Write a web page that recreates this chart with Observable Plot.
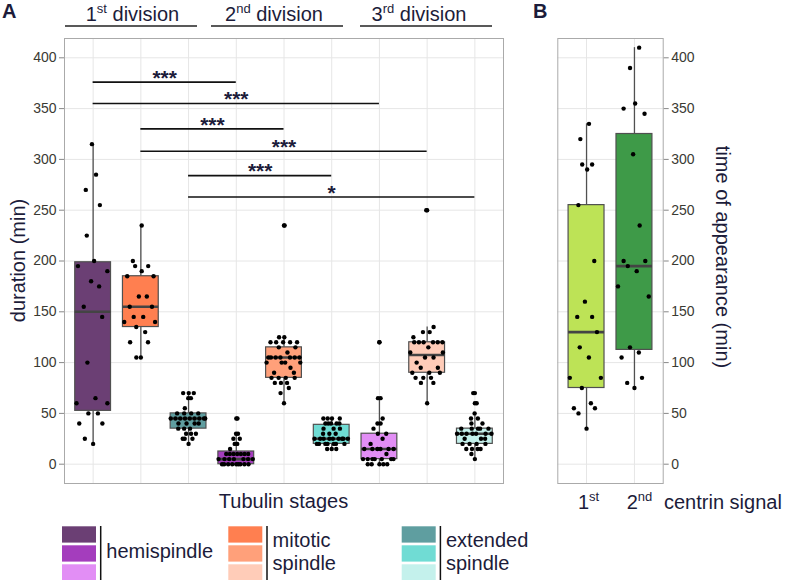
<!DOCTYPE html>
<html><head><meta charset="utf-8">
<script src="https://cdn.jsdelivr.net/npm/d3@7"></script>
<script src="https://cdn.jsdelivr.net/npm/@observablehq/plot@0.6"></script>
<style>
body{margin:0;background:#fff;}
#wrap{position:relative;width:785px;height:580px;overflow:hidden;background:#fff;}
</style></head><body><div id="wrap"></div>
<script>
// ---------------- data ----------------
const stages = ["hemispindle 1","mitotic spindle 1","extended spindle 1",
                "hemispindle 2","mitotic spindle 2","extended spindle 2",
                "hemispindle 3","mitotic spindle 3","extended spindle 3"];
const stageColors = ["#6B3F74","#FF7F50","#5F9EA0","#A43DBD","#FFA07A","#70DCD4","#E28EF5","#FFCCB8","#C4F1EC"];

const hemi1 = [315,285,270,255,225,200,195,190,180,175,155,145,100,65,60,60,50,50,40,40,25,20];
const mitotic1 = [235,200,195,195,190,185,185,165,165,155,155,145,145,140,140,135,130,120,120,105,105];
const extended1 = [70,70,70,65,65,55,50,50,50,50,45,45,45,45,45,45,45,45,45,40,40,40,40,35,35,35,30,30,30,25,25,25,20];
const hemi2 = [45,30,30,25,25,20,20,15,10,10,10,10,10,10,10,5,5,5,5,5,5,5,0,0,0,0,0,0,0,0,0];
const mitotic2 = [235,125,125,120,120,120,120,120,115,115,110,105,105,105,105,105,105,105,100,100,100,100,95,90,90,85,85,85,85,80,80,80,75,70,60];
const extended2 = [45,45,45,45,40,40,40,40,40,35,35,35,30,30,30,25,25,25,25,25,25,25,25,25,20,20,20,20,20,20,20,15,15,15];
const hemi3 = [120,65,65,45,40,40,35,30,30,25,20,15,15,15,15,15,15,10,5,5,5,5,5,5,5,0,0,0,0,0];
const mitotic3 = [250,135,130,130,125,120,120,120,120,120,120,115,110,110,105,105,100,95,95,90,90,90,85,85,85,80,80,60];
const extended3 = [70,60,50,45,45,40,40,35,35,35,35,35,30,30,30,30,30,30,30,25,25,25,20,20,20,20,15,15,15,15,10,5];
const durations = [hemi1,mitotic1,extended1,hemi2,mitotic2,extended2,hemi3,mitotic3,extended3];

const centrinSignals = ["1st","2nd"];
const centrinColors = ["#BDE356","#3E9A48"];
const centrin1 = [335,320,295,295,290,255,200,160,145,145,130,115,105,85,85,75,60,55,55,50,35];
const centrin2 = [410,390,355,350,345,305,235,200,200,195,190,175,165,115,110,105,85,80,75];
const centrinTimes = [centrin1, centrin2];

// significance brackets: from stage, to stage, height, label
const bracketFrom = ["hemispindle 1","hemispindle 1","mitotic spindle 1","mitotic spindle 1","extended spindle 1","extended spindle 1"];
const bracketTo   = ["hemispindle 2","hemispindle 3","mitotic spindle 2","mitotic spindle 3","extended spindle 2","extended spindle 3"];
const bracketY    = [376,355,330,308,284,263];
const bracketLab  = ["***","***","***","***","***","*"];

const yTicks = [0,50,100,150,200,250,300,350,400];
const divisionNum = ["1","2","3"];
const divisionSup = ["st","nd","rd"];

// ---------------- helpers ----------------
const FONT = '"Liberation Sans", Arial, Helvetica, sans-serif';
const NAVY = "#1c1c3a";
const TICKTXT = "#3a3a33";
const GRID = "#e6e6e6";
const BOXLINE = "#505050";

function boxStats(vals){
  const s = vals.slice().sort(d3.ascending);
  const q1 = d3.quantileSorted(s,0.25), q2 = d3.quantileSorted(s,0.5), q3 = d3.quantileSorted(s,0.75);
  const iqr = q3-q1, lf = q1-1.5*iqr, uf = q3+1.5*iqr;
  const inside = s.filter(v=>v>=lf && v<=uf);
  return {q1,q2,q3,lo:d3.min(inside),hi:d3.max(inside),out:s.filter(v=>v<lf||v>uf)};
}
function vdc(i){let v=0,d=1;while(i>0){d*=2;v+=(i%2)/d;i=Math.floor(i/2);}return v;}
function quasiOffsets(vals,width=0.4){
  const n=vals.length;
  const order=d3.range(n).sort((a,b)=>vals[a]-vals[b]||a-b);
  const rank=new Array(n); order.forEach((k,r)=>rank[k]=r+1);
  const s=vals.slice().sort(d3.ascending);
  const sd=d3.deviation(vals);
  const iqr=d3.quantileSorted(s,.75)-d3.quantileSorted(s,.25);
  let lo=Math.min(sd,iqr/1.34); if(!(lo>0)) lo=sd||1;
  const bw=0.9*lo*Math.pow(n,-0.2);
  const kde=y=>d3.sum(vals,v=>Math.exp(-0.5*((y-v)/bw)**2));
  const grid=d3.range(512).map(i=>s[0]-3*bw+i*(s[n-1]-s[0]+6*bw)/511);
  const maxD=d3.max(grid,kde);
  return vals.map((v,k)=>(vdc(rank[k])*2-1)*kde(v)/maxD*width);
}
function buildRows(names, series){
  return names.flatMap((s,i)=>{const off=quasiOffsets(series[i]);return series[i].map((v,k)=>({stage:s,value:v,x:i+1+off[k]}));});
}
function buildStats(names, series, colors){
  return names.map((s,i)=>({stage:s,i:i+1,color:colors[i],...boxStats(series[i])}));
}
function boxMarks(stats, rows){
  const hw=0.375;
  const outs=stats.flatMap(d=>d.out.map(v=>({i:d.i,value:v})));
  return [
    Plot.ruleX(stats,{x:"i",y1:"lo",y2:"q1",stroke:BOXLINE,strokeWidth:1.3}),
    Plot.ruleX(stats,{x:"i",y1:"q3",y2:"hi",stroke:BOXLINE,strokeWidth:1.3}),
    Plot.rect(stats,{x1:d=>d.i-hw,x2:d=>d.i+hw,y1:"q1",y2:"q3",fill:"color",stroke:BOXLINE,strokeWidth:1.2}),
    Plot.ruleY(stats,{x1:d=>d.i-hw,x2:d=>d.i+hw,y:"q2",stroke:"#444",strokeWidth:2.6}),
    Plot.dot(outs,{x:"i",y:"value",r:2.2,fill:"black",stroke:null}),
    Plot.dot(rows,{x:"x",y:"value",r:2.2,fill:"black",stroke:null})
  ];
}

const wrap=document.getElementById("wrap");
const Y_DOMAIN=[-19,419];

// ---------------- panel A ----------------
const rowsA=buildRows(stages,durations);
const statsA=buildStats(stages,durations,stageColors);
const idx=s=>stages.indexOf(s)+1;
const brackets=bracketFrom.map((f,k)=>({a:idx(f),b:idx(bracketTo[k]),y:bracketY[k],label:bracketLab[k]}));

const plotA=Plot.plot({
  width:520,height:490,marginLeft:64,marginRight:17,marginTop:38,marginBottom:7,
  x:{domain:[0.4,9.6],axis:null},
  y:{domain:Y_DOMAIN,axis:null},
  style:{fontFamily:FONT,background:"transparent",overflow:"visible"},
  marks:[
    Plot.ruleY(yTicks,{stroke:GRID,strokeWidth:1}),
    Plot.ruleX(d3.range(1,stages.length+1),{stroke:GRID,strokeWidth:1}),
    ...boxMarks(statsA,rowsA),
    Plot.ruleY(brackets,{x1:"a",x2:"b",y:"y",stroke:"#111",strokeWidth:1.7}),
    Plot.text(brackets,{x:d=>(d.a+d.b)/2,y:"y",text:"label",fontSize:21,fontWeight:"bold",fill:NAVY,dy:-4}),
    Plot.frame({stroke:"#aaaaaa",strokeWidth:1}),
    Plot.axisY({ticks:yTicks,anchor:"left",tickSize:5,tickPadding:3,stroke:"#888",fill:TICKTXT,fontSize:14,label:null})
  ]
});
plotA.style.position="absolute";plotA.style.left="0px";plotA.style.top="0px";
wrap.appendChild(plotA);

// ---------------- panel B ----------------
const rowsB=buildRows(centrinSignals,centrinTimes);
const statsB=buildStats(centrinSignals,centrinTimes,centrinColors);
const plotB=Plot.plot({
  width:265,height:490,marginLeft:37.3,marginRight:122.3,marginTop:38,marginBottom:7,
  x:{domain:[0.4,2.6],axis:null},
  y:{domain:Y_DOMAIN,axis:null},
  style:{fontFamily:FONT,background:"transparent",overflow:"visible"},
  marks:[
    Plot.ruleY(yTicks,{stroke:GRID,strokeWidth:1}),
    Plot.ruleX([1,2],{stroke:GRID,strokeWidth:1}),
    ...boxMarks(statsB,rowsB),
    Plot.frame({stroke:"#aaaaaa",strokeWidth:1}),
    Plot.axisY({ticks:yTicks,anchor:"right",tickSize:5,tickPadding:3,stroke:"#888",fill:TICKTXT,fontSize:14,label:null})
  ]
});
plotB.style.position="absolute";plotB.style.left="520px";plotB.style.top="0px";
wrap.appendChild(plotB);

// ---------------- annotations, titles, legend ----------------
const ov=d3.select(wrap).append("svg").attr("width",785).attr("height",580)
  .style("position","absolute").style("left","0px").style("top","0px")
  .attr("font-family",FONT).attr("fill",NAVY);

ov.append("text").attr("x",2).attr("y",17.5).attr("font-size",20).attr("font-weight","bold").text("A");
ov.append("text").attr("x",533).attr("y",17.5).attr("font-size",20).attr("font-weight","bold").text("B");

const divCenters=[132.5,274,419];
const divLines=[[65,197],[211,343],[360,492]];
divisionNum.forEach((n,k)=>{
  const t=ov.append("text").attr("x",divCenters[k]).attr("y",20.7).attr("font-size",20).attr("text-anchor","middle");
  t.append("tspan").text(n);
  t.append("tspan").attr("font-size",13).attr("dy",-8).text(divisionSup[k]);
  t.append("tspan").attr("dy",8).text("\u00a0division");
  ov.append("line").attr("x1",divLines[k][0]).attr("x2",divLines[k][1]).attr("y1",26).attr("y2",26)
    .attr("stroke","#222").attr("stroke-width",1.3);
});

// axis titles
ov.append("text").attr("transform","translate(25,260.5) rotate(-90)").attr("text-anchor","middle")
  .attr("font-size",20).text("duration (min)");
ov.append("text").attr("transform","translate(715.5,257) rotate(90)").attr("text-anchor","middle")
  .attr("font-size",20).text("time of appearance (min)");
ov.append("text").attr("x",283.5).attr("y",507.5).attr("text-anchor","middle").attr("font-size",20).text("Tubulin stages");

// panel B x labels
const bLabX=[588.5,639.5];
centrinSignals.forEach((s,k)=>{
  const t=ov.append("text").attr("x",bLabX[k]).attr("y",509.3).attr("font-size",20).attr("text-anchor","middle");
  t.append("tspan").text(s.slice(0,1));
  t.append("tspan").attr("font-size",13).attr("dy",-8).text(s.slice(1));
});
ov.append("text").attr("x",664).attr("y",509.3).attr("font-size",20).text("centrin signal");

// legend
const legendGroups=[
  {cols:[0,3,6],lines:["hemispindle"]},
  {cols:[1,4,7],lines:["mitotic","spindle"]},
  {cols:[2,5,8],lines:["extended","spindle"]}
];
const legX=[62,228.3,401.7];
legendGroups.forEach((g,k)=>{
  const x0=legX[k];
  g.cols.forEach((c,r)=>{
    ov.append("rect").attr("x",x0).attr("y",526.3+r*19).attr("width",34).attr("height",16.3).attr("fill",stageColors[c]);
  });
  ov.append("line").attr("x1",x0+38.7).attr("x2",x0+38.7).attr("y1",526).attr("y2",581).attr("stroke","#111").attr("stroke-width",1.5);
  const ys=g.lines.length===1?[558.3]:[546.7,570];
  g.lines.forEach((l,j)=>{
    ov.append("text").attr("x",x0+44.3).attr("y",ys[j]).attr("font-size",20).text(l);
  });
});
</script></body></html>
